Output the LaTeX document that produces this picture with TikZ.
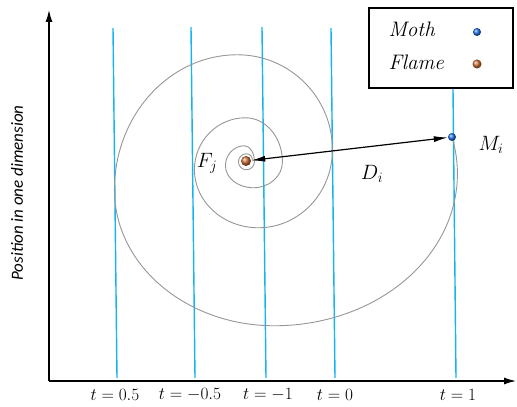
\documentclass[tikz,border=0pt]{standalone}
\usepackage{amsmath,amssymb}
\usepackage{fontspec}
\usepackage{tikz}
\usetikzlibrary{arrows.meta}
\newfontfamily\axisfont{Carlito}
\definecolor{tblue}{RGB}{20,180,240}
\definecolor{spiralgray}{RGB}{150,150,150}
\definecolor{flamecol}{RGB}{205,110,55}
\definecolor{mothcol}{RGB}{30,110,230}

\begin{document}
\begin{tikzpicture}[x=1pt, y=1pt,
    tline/.style={tblue, line width=1.4pt},
    spiral/.style={spiralgray, line width=0.9pt},
    ball/.style={circle, inner sep=0pt, minimum size=#1},
    mathlab/.style={font=\fontsize{20}{22}\selectfont}]
    \useasboundingbox (0,0) rectangle (517,407);
    \coordinate (origin) at (49,26);
    \coordinate (ytop) at (49,397);
    \coordinate (xend) at (516,26);
    \foreach \xt/\xb/\yt/\xl/\lab [count=\i] in {113/117/379/115/0.5, 191/195/380/190/-0.5,
                                                262/266/380/268/-1, 331/335/379/335/0, 453/456/318/458/1}
      {\draw[tline] (\xt,\yt) -- (\xb,29);
       \node[font=\fontsize{16}{18}\selectfont] (tlab\i) at (\xl,12) {$t = \lab$};}
    \draw[line width=1.2pt, -{Latex[length=12pt,width=7pt]}] (origin) -- (xend);
    \draw[line width=1.2pt, -{Latex[length=12pt,width=7pt]}] (origin) -- (ytop);
    \node[rotate=90, font=\axisfont\itshape\fontsize{17}{19}\selectfont] (ylab) at (17,214) {Position in one dimension};
    \draw[spiral] (452,270) arc[start angle=14, end angle=-90, x radius=183, y radius=152]
      arc[start angle=-90, end angle=-180, x radius=160, y radius=136]
      arc[start angle=180, end angle=90, x radius=123, y radius=135]
      arc[start angle=90, end angle=0, x radius=95, y radius=95]
      arc[start angle=0, end angle=-90, x radius=74, y radius=78]
      arc[start angle=-90, end angle=-180, x radius=64, y radius=58]
      arc[start angle=180, end angle=90, x radius=51, y radius=52]
      arc[start angle=90, end angle=0, x radius=37, y radius=44]
      arc[start angle=0, end angle=-90, x radius=29, y radius=26]
      arc[start angle=-90, end angle=-180, x radius=28, y radius=22]
      arc[start angle=180, end angle=90, x radius=19, y radius=20]
      arc[start angle=90, end angle=0, x radius=10, y radius=16]
      arc[start angle=0, end angle=-90, x radius=8, y radius=8]
      arc[start angle=-90, end angle=-180, x radius=8, y radius=8]
      arc[start angle=180, end angle=90, x radius=8, y radius=8]
      arc[start angle=90, end angle=0, x radius=6, y radius=6];
    \node[ball=10pt, ball color=flamecol] (flame) at (246,246) {};
    \node[ball=8pt, ball color=mothcol] (moth) at (452,270) {};
    \draw[line width=1.2pt, {Latex[length=14pt,width=6pt]}-{Latex[length=14pt,width=6pt]}] (flame) -- (moth);
    \node[mathlab] (flab) at (207,244) {$F_j$};
    \node[mathlab] (mlab) at (491,262) {$M_i$};
    \node[mathlab] (dlab) at (372,233) {$D_i$};
    \node[draw, line width=1.3pt, minimum width=144pt, minimum height=80pt] (legend) at (441,359) {};
    \node[anchor=base west, font=\fontsize{21}{23}\selectfont\itshape] (mothlab) at (385,370) {Moth};
    \node[anchor=base west, font=\fontsize{21}{23}\selectfont\itshape] (flamelab) at (385,337) {Flame};
    \node[ball=8pt, ball color=mothcol] (mothkey) at (477,375) {};
    \node[ball=9pt, ball color=flamecol] (flamekey) at (477,343) {};
  \end{tikzpicture}
\end{document}
